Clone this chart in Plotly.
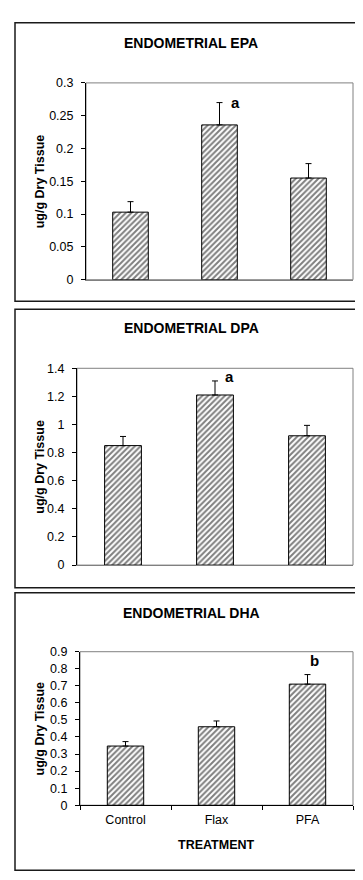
import plotly.graph_objects as go

W, H = 363, 880

treatments = ["Control", "Flax", "PFA"]

epa_mean = [0.103, 0.236, 0.155]
epa_sem = [0.016, 0.034, 0.022]

dpa_mean = [0.85, 1.21, 0.92]
dpa_sem = [0.065, 0.10, 0.074]

dha_mean = [0.347, 0.46, 0.71]
dha_sem = [0.026, 0.034, 0.056]

panel_titles = ["ENDOMETRIAL EPA", "ENDOMETRIAL DPA", "ENDOMETRIAL DHA"]
y_ranges = [[0, 0.3], [0, 1.4], [0, 0.9]]
y_dticks = [0.05, 0.2, 0.1]
sig_letters = ["a", "a", "b"]
sig_index = [1, 1, 2]
sig_y = [0.27, 1.345, 0.846]
sig_shift = [16, 14, 7]

means = [epa_mean, dpa_mean, dha_mean]
sems = [epa_sem, dpa_sem, dha_sem]

FONT = "Liberation Sans, Arial, sans-serif"

# layout geometry (pixels)
plot_x = [(78, 345), (69, 345), (72, 345)]
plot_y = [(69, 269), (359, 559), (647, 803)]
panel_box = [(7, 8, 354, 291), (7, 299, 354, 582), (7, 587, 354, 869)]
title_y = [28, 318, 608]


def px(x):
    return x / W


def py(y):
    return 1 - y / H


fig = go.Figure()
shapes = []
annotations = []

for i in range(3):
    n = "" if i == 0 else str(i + 1)
    fig.add_trace(go.Bar(
        x=treatments, y=means[i],
        xaxis="x" + n, yaxis="y" + n,
        width=0.4,
        marker=dict(color="white",
                    line=dict(color="black", width=1),
                    pattern=dict(shape="/", fgcolor="black", bgcolor="white",
                                 size=4, solidity=0.5)),
        error_y=dict(type="data", symmetric=False, array=sems[i],
                     arrayminus=[0, 0, 0], color="black", thickness=1, width=3),
        showlegend=False,
    ))
    x0, x1 = plot_x[i]
    y0, y1 = plot_y[i]
    last = (i == 2)
    fig.layout["xaxis" + n] = dict(
        domain=[px(x0), px(x1)], anchor="y" + n,
        range=[-0.5, 2.5], type="category",
        showline=True, linecolor="black" if last else "#808080", linewidth=1,
        ticks="outside" if last else "", tickson="boundaries", ticklen=4,
        tickcolor="black", ticklabelstandoff=3,
        showticklabels=last, showgrid=False, zeroline=False,
        tickfont=dict(family=FONT, size=12.5, color="black"),
    )
    fig.layout["yaxis" + n] = dict(
        domain=[py(y1), py(y0)], anchor="x" + n,
        range=y_ranges[i], dtick=y_dticks[i], tick0=0,
        showline=True, linecolor="black", linewidth=1,
        ticks="outside", ticklen=4, tickcolor="black", ticklabelstandoff=5,
        showgrid=False, zeroline=False,
        tickfont=dict(family=FONT, size=12.5, color="black"),
    )
    # plot-area frame (grey)
    shapes.append(dict(type="rect", xref="paper", yref="paper",
                       x0=px(x0), x1=px(x1), y0=py(y1), y1=py(y0),
                       line=dict(color="#808080", width=1), layer="below"))
    # panel border
    bx0, by0, bx1, by1 = panel_box[i]
    shapes.append(dict(type="rect", xref="paper", yref="paper",
                       x0=px(bx0), x1=px(bx1), y0=py(by1), y1=py(by0),
                       line=dict(color="#1a1a1a", width=1.5)))
    annotations.append(dict(text="<b>" + panel_titles[i] + "</b>",
                            xref="paper", yref="paper", x=px(183), y=py(title_y[i]),
                            showarrow=False, xanchor="center", yanchor="middle",
                            font=dict(family=FONT, size=14, color="black")))
    annotations.append(dict(text="<b>ug/g Dry Tissue</b>", textangle=-90,
                            xref="paper", yref="paper", x=px(32), y=py((y0 + y1) / 2),
                            showarrow=False, xanchor="center", yanchor="middle",
                            font=dict(family=FONT, size=12.5, color="black")))
    annotations.append(dict(text="<b>" + sig_letters[i] + "</b>",
                            xref="x" + n, yref="y" + n,
                            x=treatments[sig_index[i]], y=sig_y[i], xshift=sig_shift[i],
                            showarrow=False, xanchor="center", yanchor="middle",
                            font=dict(family=FONT, size=15, color="black")))

annotations.append(dict(text="<b>TREATMENT</b>", xref="paper", yref="paper",
                        x=px(208), y=py(843), showarrow=False,
                        xanchor="center", yanchor="middle",
                        font=dict(family=FONT, size=12.5, color="black")))

fig.update_layout(
    width=W, height=H,
    margin=dict(l=0, r=0, t=0, b=0),
    paper_bgcolor="white", plot_bgcolor="white",
    shapes=shapes, annotations=annotations,
    bargap=0.6,
)

fig.write_html("out.html", config=dict(displayModeBar=False))
